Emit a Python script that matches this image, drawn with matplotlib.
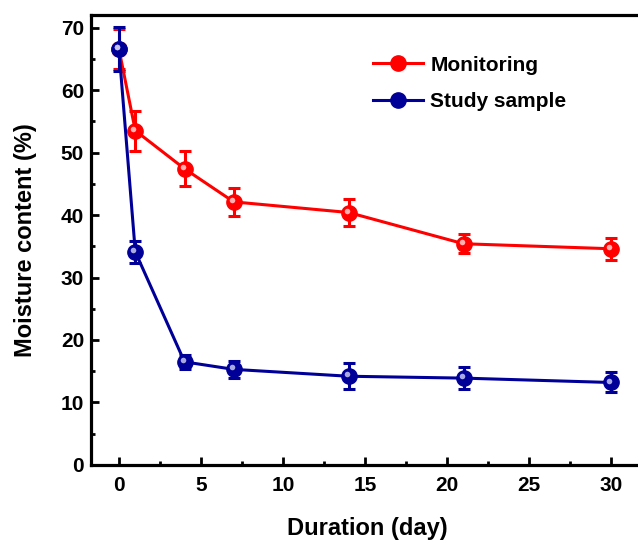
import matplotlib
matplotlib.use("Agg")
import matplotlib.pyplot as plt
from matplotlib.lines import Line2D
from matplotlib.transforms import offset_copy

# Данные с графика
days = [0, 1, 4, 7, 14, 21, 30]
monitoring = [66.6, 53.5, 47.4, 42.1, 40.4, 35.4, 34.6]
monitoring_err = [3.2, 3.2, 2.8, 2.2, 2.1, 1.5, 1.8]
study = [66.6, 34.1, 16.5, 15.3, 14.2, 13.9, 13.2]
study_err = [3.5, 1.8, 1.1, 1.4, 2.1, 1.7, 1.6]

x_ticks = [0, 5, 10, 15, 20, 25, 30]
y_ticks = [0, 10, 20, 30, 40, 50, 60, 70]

plt.rcParams['font.family'] = ['Liberation Sans', 'DejaVu Sans']
plt.rcParams['font.weight'] = 'bold'

fig = plt.figure(figsize=(6.38, 5.4), dpi=100)
ax = fig.add_axes([0.1426, 0.1389, 0.867, 0.8333])

handles = []


def draw_series(y, err, color, light, label):
    ax.errorbar(days, y, yerr=err, color=color, lw=2.2, elinewidth=2.2,
                capsize=4.5, capthick=2.2, marker='o', markersize=11,
                markerfacecolor=color, markeredgecolor=color, zorder=3)
    # блик на маркере
    tr = offset_copy(ax.transData, fig=fig, x=-1.4, y=1.4, units='points')
    ax.plot(days, y, 'o', color=light, markersize=4, transform=tr,
            markeredgewidth=0, alpha=0.85, zorder=4)
    handles.append(Line2D([], [], color=color, lw=2.2, marker='o',
                          markersize=11, markerfacecolor=color,
                          markeredgecolor=color, label=label))


draw_series(monitoring, monitoring_err, '#ff0000', '#ffd0d0', 'Monitoring')
draw_series(study, study_err, '#000099', '#c8c8f0', 'Study sample')

ax.set_xlim(-1.7, 32)
ax.set_ylim(0, 72)
ax.set_xticks(x_ticks)
ax.set_yticks(y_ticks)
ax.set_xticks([2.5, 7.5, 12.5, 17.5, 22.5, 27.5], minor=True)
ax.set_yticks([5, 15, 25, 35, 45, 55, 65], minor=True)

for s in ax.spines.values():
    s.set_linewidth(2.3)

ax.tick_params(which='major', direction='in', length=5.5, width=2,
               labelsize=15, top=False)
ax.tick_params(axis='x', which='major', pad=8)
ax.tick_params(axis='y', which='major', pad=5)
ax.tick_params(which='minor', direction='in', length=3, width=2, top=False)

ax.set_xlabel('Duration (day)', fontsize=17, fontweight='bold', labelpad=16)
ax.set_ylabel('Moisture content (%)', fontsize=17, fontweight='bold', labelpad=17)

ax.legend(handles=handles, loc='upper left', bbox_to_anchor=(0.51, 0.91),
          frameon=False, fontsize=15, handlelength=2.4, handletextpad=0.35,
          labelspacing=0.85, borderpad=0, borderaxespad=0, numpoints=1)

fig.savefig('out.png', dpi=100)
